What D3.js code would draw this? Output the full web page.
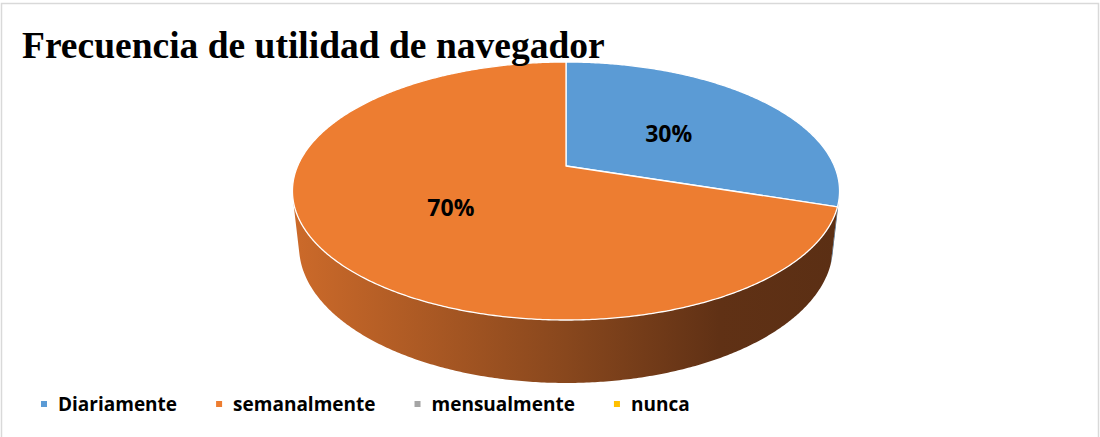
<!DOCTYPE html>
<html>
<head>
<meta charset="utf-8">
<script src="https://cdn.jsdelivr.net/npm/d3@7"></script>
<style>
  body { margin: 0; background: #fff; }
  svg { display: block; }
</style>
</head>
<body>
<svg id="chart" width="1100" height="437"></svg>
<script>
// chart data
const title = "Frecuencia de utilidad de navegador";
const categories = ["Diariamente", "semanalmente", "mensualmente", "nunca"];
const values = [30, 70, 0, 0];
const colors = ["#5b9bd5", "#ed7d31", "#a5a5a5", "#ffc000"];
const sideColors = [
  ["#3b6f9f", "#2b5379"],
  ["#cc6a2a", "#5b2f14"],
  ["#8a8a8a", "#5a5a5a"],
  ["#c99700", "#7a5c00"],
];

const svg = d3.select("#chart");

// frame (only top/left edges are inside the picture)
svg.append("rect")
  .attr("x", 1.5).attr("y", 3.5)
  .attr("width", 1097).attr("height", 600)
  .attr("fill", "none")
  .attr("stroke", "#d9d9d9")
  .attr("stroke-width", 1.5);

// perspective projection of a tilted disk
const cx = 566, cy = 166;
const F = 1227.5, D = 4.574, T = 0.235;
const tilt = 27.56 * Math.PI / 180;
const c = Math.cos(tilt), s = Math.sin(tilt);

function project(a, r, yw) {
  const x = r * Math.sin(a), z = r * Math.cos(a);
  const yc = yw * c + z * s;
  const dep = D + z * c - yw * s;
  return [cx + F * x / dep, cy - F * yc / dep];
}

const pie = d3.pie().sort(null).value((d) => d.value);
const arcs = pie(categories.map((k, i) => ({ key: k, value: values[i], i })));

const step = Math.PI / 360;
function arcPoints(a0, a1, yw) {
  const pts = [];
  const n = Math.max(2, Math.ceil((a1 - a0) / step));
  for (let k = 0; k <= n; k++) pts.push(project(a0 + (a1 - a0) * k / n, 1, yw));
  return pts;
}

const defs = svg.append("defs");
sideColors.forEach((sc, i) => {
  const g = defs.append("linearGradient")
    .attr("id", "side" + i)
    .attr("gradientUnits", "userSpaceOnUse")
    .attr("x1", 293).attr("x2", 840).attr("y1", 0).attr("y2", 0);
  g.append("stop").attr("offset", 0).attr("stop-color", sc[0]);
  g.append("stop").attr("offset", 0.5).attr("stop-color", d3.interpolateRgb(sc[0], sc[1])(0.6));
  g.append("stop").attr("offset", 0.78).attr("stop-color", d3.interpolateRgb(sc[0], sc[1])(0.96));
  g.append("stop").attr("offset", 1).attr("stop-color", sc[1]);
});

// visible part of the side wall
const aMin = Math.acos(-1 / (D * c));
const aMax = 2 * Math.PI - aMin;

const line = d3.line();

const sides = svg.append("g");
arcs.forEach((d) => {
  const a0 = Math.max(d.startAngle, aMin);
  const a1 = Math.min(d.endAngle, aMax);
  if (a1 <= a0) return;
  const top = arcPoints(a0, a1, 0);
  const bot = arcPoints(a0, a1, -T).reverse();
  sides.append("path")
    .attr("d", line(top.concat(bot)) + "Z")
    .attr("fill", `url(#side${d.data.i})`);
});

// top faces
const tops = svg.append("g");
arcs.forEach((d) => {
  if (d.endAngle - d.startAngle <= 0) return;
  const pts = [project(0, 0, 0)].concat(arcPoints(d.startAngle, d.endAngle, 0));
  tops.append("path")
    .attr("d", line(pts) + "Z")
    .attr("fill", colors[d.data.i])
    .attr("stroke", "#fff")
    .attr("stroke-width", 1.3)
    .attr("stroke-linejoin", "round");
});

// percent labels
const total = d3.sum(values);
const labelArc = d3.arc().innerRadius(0.5).outerRadius(0.5);
arcs.forEach((d) => {
  if (d.value <= 0) return;
  const [lx, ly] = labelArc.centroid(d);
  const a = Math.atan2(lx, -ly);
  const [px, py] = project(a, Math.hypot(lx, ly), 0);
  svg.append("text")
    .attr("x", px).attr("y", py + 11)
    .attr("text-anchor", "middle")
    .attr("font-family", "'Open Sans', sans-serif")
    .attr("font-weight", "bold")
    .attr("font-size", 23)
    .attr("fill", "#000")
    .text(d3.format(".0%")(d.value / total));
});

// title
svg.append("text")
  .attr("x", 22).attr("y", 58)
  .attr("font-family", "'Liberation Serif', 'Times New Roman', serif")
  .attr("font-weight", "bold")
  .attr("font-size", 37.5)
  .attr("fill", "#000")
  .text(title);

// legend
const legend = svg.append("g");
let lx = 41;
categories.forEach((k, i) => {
  legend.append("rect")
    .attr("x", lx).attr("y", 401)
    .attr("width", 6).attr("height", 6)
    .attr("fill", colors[i]);
  const t = legend.append("text")
    .attr("x", lx + 17).attr("y", 411)
    .attr("font-family", "'Open Sans', sans-serif")
    .attr("font-weight", "bold")
    .attr("font-size", 19)
    .attr("fill", "#000")
    .text(k);
  lx += 17 + t.node().getComputedTextLength() + 39;
});
</script>
</body>
</html>
